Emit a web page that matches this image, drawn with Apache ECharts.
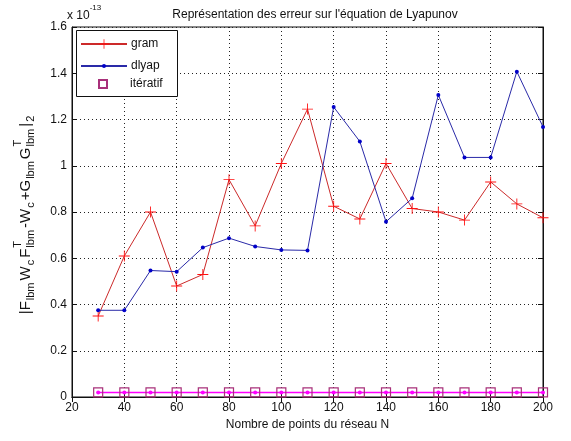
<!DOCTYPE html>
<html>
<head>
<meta charset="utf-8">
<script src="https://cdn.jsdelivr.net/npm/echarts@6/dist/echarts.min.js"></script>
<style>
  html, body { margin: 0; padding: 0; background: #fff; }
  #chart { width: 571px; height: 441px; }
</style>
</head>
<body>
<div id="chart"></div>
<script>
// Network size N
const pointsN = [30, 40, 50, 60, 70, 80, 90, 100, 110, 120, 130, 140, 150, 160, 170, 180, 190, 200];
// Residual norms, in units of 1e-13
const gram = [0.35, 0.61, 0.80, 0.48, 0.53, 0.94, 0.74, 1.01, 1.245, 0.825, 0.77, 1.01, 0.815, 0.80, 0.765, 0.93, 0.835, 0.775];
const dlyap = [0.375, 0.375, 0.547, 0.542, 0.646, 0.687, 0.651, 0.636, 0.634, 1.254, 1.105, 0.758, 0.859, 1.306, 1.036, 1.036, 1.407, 1.168];
const iteratif = [0.02, 0.02, 0.02, 0.02, 0.02, 0.02, 0.02, 0.02, 0.02, 0.02, 0.02, 0.02, 0.02, 0.02, 0.02, 0.02, 0.02, 0.02];
const xTicks = [20, 40, 60, 80, 100, 120, 140, 160, 180, 200];
const yTicks = [0, 0.2, 0.4, 0.6, 0.8, 1, 1.2, 1.4, 1.6];

const FONT = '"Liberation Sans", Arial, sans-serif';
const pair = (xs, ys) => xs.map((x, i) => [x, ys[i]]);

// thin plus marker as a filled outline
const plusPath = 'path://M4.6,0h0.8v4.6h4.6v0.8h-4.6v4.6h-0.8v-4.6h-4.6v-0.8h4.6z';

const chart = echarts.init(document.getElementById('chart'), null, { renderer: 'canvas' });

// y-axis label pieces: [text, role]; roles: n = normal, sub, supsub = stacked T / lbm
const yLabelParts = [
  ['|F', 'n'], ['lbm', 'sub'], ['W', 'n'], ['c', 'sub'], ['F', 'n'], [['T', 'lbm'], 'supsub'],
  ['-W', 'n'], ['c', 'sub'], ['+G', 'n'], ['lbm', 'sub'], ['G', 'n'], [['T', 'lbm'], 'supsub'],
  ['|', 'n'], ['2', 'sub']
];
const mainSize = 15, smallSize = 11;
const ctx = document.createElement('canvas').getContext('2d');
function textWidth(t, size) { ctx.font = size + 'px ' + FONT; return ctx.measureText(t).width; }

function buildYLabel() {
  const children = [];
  let x = 0;
  const items = [];
  yLabelParts.forEach(([t, role]) => {
    if (role === 'n') {
      items.push({ t, x, dy: 0, size: mainSize });
      x += textWidth(t, mainSize) + 1;
    } else if (role === 'sub') {
      items.push({ t, x, dy: 5, size: smallSize });
      x += textWidth(t, smallSize) + 2;
    } else {
      items.push({ t: t[0], x, dy: -8, size: smallSize });
      items.push({ t: t[1], x, dy: 5, size: smallSize });
      x += Math.max(textWidth(t[0], smallSize), textWidth(t[1], smallSize)) + 2;
    }
  });
  const total = x;
  items.forEach(it => {
    children.push({
      type: 'text',
      x: it.x - total / 2,
      y: it.dy,
      style: {
        text: it.t, fontSize: it.size, fontFamily: FONT, fill: '#111',
        verticalAlign: 'middle'
      }
    });
  });
  return { type: 'group', x: 26, y: 214, rotation: Math.PI / 2, children };
}

// one legend block per entry so each marker keeps its own size
function legendEntry(name, top, itemHeight) {
  return {
    orient: 'vertical', left: 80, top: top, z: 20,
    data: [name],
    padding: 0,
    itemWidth: 46, itemHeight: itemHeight, itemGap: 0,
    textStyle: { fontSize: 12, color: '#111', fontFamily: FONT, padding: [0, 0, 0, -1] }
  };
}

const option = {
  animation: false,
  backgroundColor: '#fff',
  textStyle: { fontFamily: FONT },
  title: {
    text: 'Représentation des erreur sur l\'équation de Lyapunov',
    left: 310, top: 4, textAlign: 'center',
    textStyle: { fontSize: 12, fontWeight: 'normal', color: '#111', fontFamily: FONT }
  },
  grid: { show: true, borderColor: '#111', borderWidth: 1, backgroundColor: '#fff',
          left: 72, right: 28, top: 27, bottom: 44 },
  legend: [
    legendEntry('gram', 38, 12),
    legendEntry('dlyap', 60, 5),
    legendEntry('itératif', 78, 10)
  ],
  graphic: [
    {
      type: 'rect', left: 76, top: 30, z: 8,
      shape: { width: 101, height: 66 },
      style: { fill: '#fff', stroke: '#111', lineWidth: 1 }
    },
    {
      type: 'text', left: 67, top: 4,
      style: {
        text: '{a|x 10}{b|-13}',
        rich: {
          a: { fontSize: 12, fontFamily: FONT, fill: '#111', verticalAlign: 'bottom', lineHeight: 18 },
          b: { fontSize: 8, fontFamily: FONT, fill: '#111', verticalAlign: 'top', lineHeight: 18 }
        }
      }
    },
    buildYLabel()
  ],
  xAxis: [
    {
      type: 'value', min: xTicks[0], max: xTicks[xTicks.length - 1], interval: 20,
      name: 'Nombre de points du réseau N', nameLocation: 'middle', nameGap: 21,
      nameTextStyle: { fontSize: 12, color: '#111', fontFamily: FONT },
      axisLine: { show: true, lineStyle: { color: '#111' } },
      axisTick: { show: true, inside: true, length: 5, lineStyle: { color: '#111' } },
      axisLabel: { fontSize: 12, color: '#111', margin: 5, fontFamily: FONT },
      splitLine: { show: true, lineStyle: { color: '#222', type: [1, 3], width: 1 } }
    },
    {
      type: 'value', position: 'top', min: xTicks[0], max: xTicks[xTicks.length - 1], interval: 20,
      axisLine: { show: true, lineStyle: { color: '#111' } },
      axisTick: { show: true, inside: true, length: 5, lineStyle: { color: '#111' } },
      axisLabel: { show: false }, splitLine: { show: false }
    }
  ],
  yAxis: [
    {
      type: 'value', min: yTicks[0], max: yTicks[yTicks.length - 1], interval: 0.2,
      axisLine: { show: true, lineStyle: { color: '#111' } },
      axisTick: { show: true, inside: true, length: 5, lineStyle: { color: '#111' } },
      axisLabel: { fontSize: 12, color: '#111', margin: 5, fontFamily: FONT,
        formatter: v => String(Math.round(v * 10) / 10) },
      splitLine: { show: true, lineStyle: { color: '#222', type: [1, 3], width: 1 } }
    },
    {
      type: 'value', position: 'right', min: yTicks[0], max: yTicks[yTicks.length - 1], interval: 0.2,
      axisLine: { show: true, lineStyle: { color: '#111' } },
      axisTick: { show: true, inside: true, length: 5, lineStyle: { color: '#111' } },
      axisLabel: { show: false }, splitLine: { show: false }
    }
  ],
  series: [
    {
      name: 'itératif-trace', type: 'line', data: pair(pointsN, iteratif),
      symbol: 'circle', symbolSize: 4,
      lineStyle: { color: '#ff00ff', width: 1.5 },
      itemStyle: { color: '#ff00ff' }, z: 3
    },
    {
      name: 'itératif', type: 'line', data: pair(pointsN, iteratif),
      symbol: 'rect', symbolSize: 9,
      lineStyle: { width: 0, opacity: 0 },
      itemStyle: { color: 'rgba(0,0,0,0)', borderColor: '#a8307a', borderWidth: 1.2 }, z: 4
    },
    {
      name: 'gram', type: 'line', data: pair(pointsN, gram),
      symbol: plusPath, symbolSize: 11,
      lineStyle: { color: '#cc2a2a', width: 1 },
      itemStyle: { color: '#ff1010' }, z: 5
    },
    {
      name: 'dlyap', type: 'line', data: pair(pointsN, dlyap),
      symbol: 'circle', symbolSize: 4,
      lineStyle: { color: '#2a2aa8', width: 1 },
      itemStyle: { color: '#0000c8' }, z: 6
    }
  ]
};
chart.setOption(option);
</script>
</body>
</html>
